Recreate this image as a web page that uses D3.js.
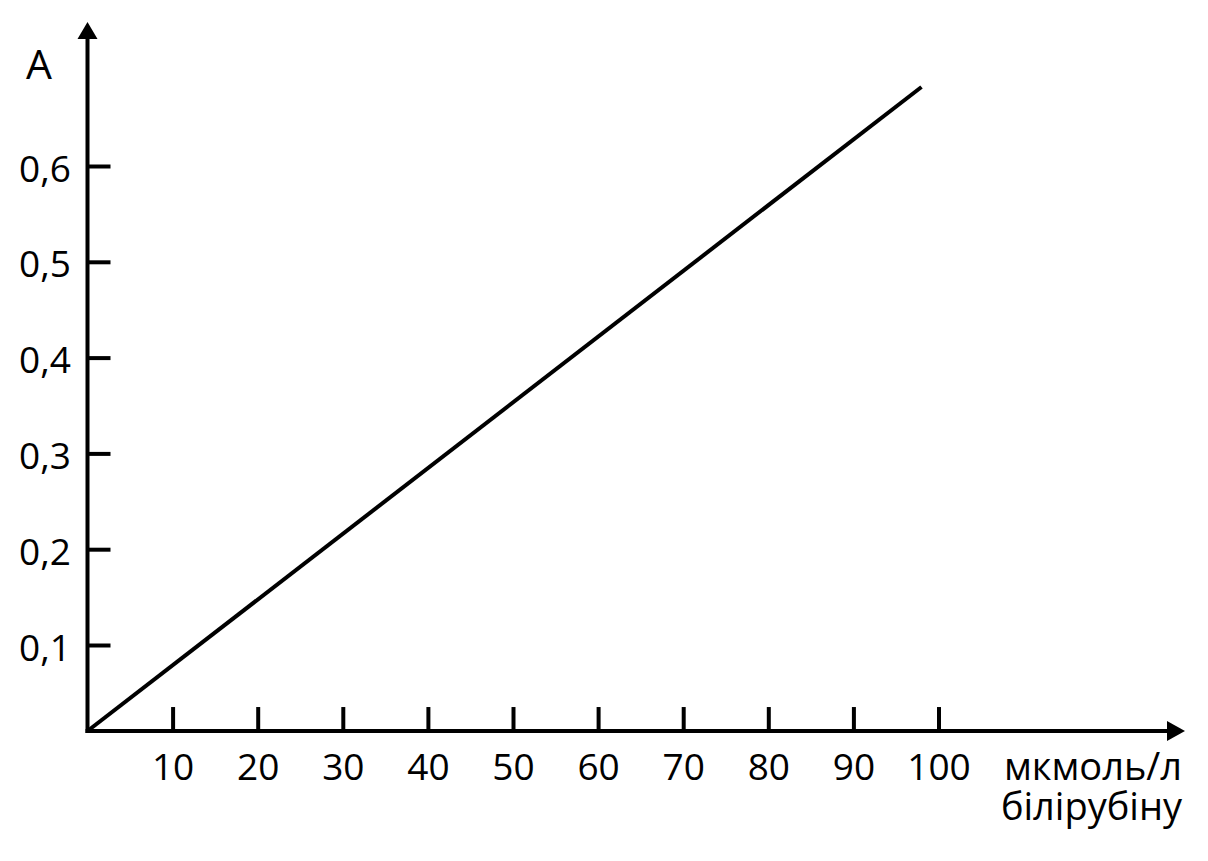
<!DOCTYPE html>
<html><head><meta charset="utf-8">
<script src="https://cdn.jsdelivr.net/npm/d3@7"></script>
<style>
html,body{margin:0;padding:0;background:#fff;}
svg text{font-family:"Open Sans",sans-serif;fill:#000;}
</style></head>
<body><svg id="c" width="1208" height="861"></svg>
<script>
// Data
const xTicks = [10, 20, 30, 40, 50, 60, 70, 80, 90, 100];
const yTicks = [0.1, 0.2, 0.3, 0.4, 0.5, 0.6];
const yTickLabels = ["0,1", "0,2", "0,3", "0,4", "0,5", "0,6"];
const lineX = [0, 98];
const lineY = [0.0102, 0.6825];
const xAxisBase = 0.0102;
const yLabel = "A";
const xLabelLines = ["мкмоль/л", "білірубіну"];

const svg = d3.select("#c");
const x = d3.scaleLinear().domain([0, 100]).range([87.5, 938.5]);
const y = d3.scaleLinear().domain([0.1, 0.6]).range([645, 166]);
const x0 = x(0), yBase = y(xAxisBase);

// x axis ticks
const gx = svg.append("g").attr("transform", `translate(0,${yBase})`)
  .call(d3.axisBottom(x).tickValues(xTicks).tickSizeInner(-24).tickSizeOuter(0).tickPadding(0).tickFormat(d3.format("d")));
gx.select(".domain").remove();
gx.selectAll(".tick line").attr("stroke", "#000").attr("stroke-width", 4);
gx.selectAll(".tick text").attr("font-size", 37).attr("dy", null).attr("y", 49).attr("fill", "#000");

// y axis ticks
const gy = svg.append("g").attr("transform", `translate(${x0},0)`)
  .call(d3.axisLeft(y).tickValues(yTicks).tickSizeInner(-23).tickSizeOuter(0).tickFormat((d, i) => yTickLabels[i]));
gy.select(".domain").remove();
gy.selectAll(".tick line").attr("stroke", "#000").attr("stroke-width", 4);
gy.selectAll(".tick text").attr("font-size", 37).attr("text-anchor", "start")
  .attr("x", 19 - x0).attr("dy", null).attr("y", 15).attr("fill", "#000");

// axis lines with arrows
svg.append("line").attr("x1", x0).attr("y1", yBase + 2).attr("x2", x0).attr("y2", 36)
  .attr("stroke", "#000").attr("stroke-width", 4);
svg.append("path").attr("d", `M${x0},22 L${x0 - 10},39 L${x0 + 10},39 Z`).attr("fill", "#000");
svg.append("line").attr("x1", x0 - 2).attr("y1", yBase).attr("x2", 1170).attr("y2", yBase)
  .attr("stroke", "#000").attr("stroke-width", 4);
svg.append("path").attr("d", `M1185,${yBase} L1167,${yBase - 10} L1167,${yBase + 10} Z`).attr("fill", "#000");

// data line
const pts = lineX.map((d, i) => [x(d), y(lineY[i])]);
svg.append("path").attr("d", d3.line()(pts)).attr("fill", "none")
  .attr("stroke", "#000").attr("stroke-width", 4);

// labels
svg.append("text").attr("x", 26).attr("y", 79).attr("font-size", 41).text(yLabel);
const unit = svg.append("text").attr("text-anchor", "end").attr("font-size", 38);
unit.selectAll("tspan").data(xLabelLines).join("tspan")
  .attr("x", 1182).attr("y", (d, i) => 780 + i * 40).text(d => d);
</script></body></html>
